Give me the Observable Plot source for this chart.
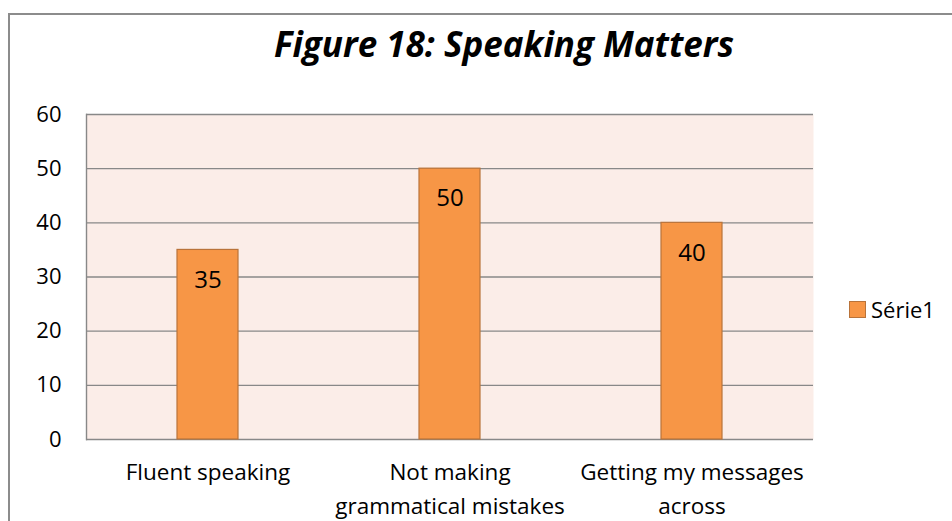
<!DOCTYPE html>
<html>
<head>
<meta charset="utf-8">
<script src="https://cdn.jsdelivr.net/npm/d3@7"></script>
<script src="https://cdn.jsdelivr.net/npm/@observablehq/plot@0.6"></script>
<style>
  html, body { margin: 0; padding: 0; background: #fff; overflow: hidden; }
  #wrap { position: relative; width: 952px; height: 521px; font-family: "Open Sans", Lato, sans-serif; }
  #border { position: absolute; left: 8px; top: 13px; width: 1000px; height: 600px; border: 2px solid #8c8c8c; box-sizing: border-box; }
  #title { position: absolute; left: 0; width: 1008px; top: 21px; text-align: center; font-size: 35px; line-height: 46px; font-weight: bold; font-style: italic; color: #000; white-space: nowrap; }
  #legend { position: absolute; left: 849px; top: 294px; display: flex; align-items: center; font-size: 22px; color: #000; }
  #legend .sw { width: 15px; height: 15px; background: #f79646; border: 1.5px solid #b9733a; margin-right: 5px; }
  #chart { position: absolute; left: 0; top: 0; }
</style>
</head>
<body>
<div id="wrap">
  <div id="border"></div>
  <div id="chart"></div>
  <div id="title">Figure 18: Speaking Matters</div>
  <div id="legend"><div class="sw"></div><span>Série1</span></div>
</div>
<script>
const categories = ["Fluent speaking", "Not making grammatical mistakes", "Getting my messages across"];
const tickLabels = ["Fluent speaking", "Not making\ngrammatical mistakes", "Getting my messages\nacross"];
const values = [35, 50, 40];
const yTicks = [0, 10, 20, 30, 40, 50, 60];
const seriesName = "Série1";

const data = categories.map((c, i) => ({category: c, value: values[i], series: seriesName}));
const labelOf = new Map(categories.map((c, i) => [c, tickLabels[i]]));

const chart = Plot.plot({
  width: 952,
  height: 521,
  marginLeft: 86,
  marginRight: 139,
  marginTop: 114,
  marginBottom: 82,
  style: {fontFamily: "'Open Sans', Lato, sans-serif", fontSize: "22px", color: "#000", background: "transparent", overflow: "visible"},
  x: {domain: categories, paddingInner: 0.748, paddingOuter: 0.374, label: null},
  y: {domain: [0, 60], label: null},
  marks: [
    Plot.frame({fill: "#fbede8", stroke: null}),
    Plot.ruleY(yTicks, {stroke: "#888888", strokeWidth: 1.4}),
    Plot.frame({anchor: "left", stroke: "#888888", strokeWidth: 1.4}),
    Plot.barY(data, {x: "category", y: "value", fill: "#f79646", stroke: "#b9733a", strokeWidth: 1.2}),
    Plot.text(data, {x: "category", y: "value", text: d => String(d.value), dy: 30, fontSize: 24, fill: "#000", lineAnchor: "middle"}),
    Plot.axisY({ticks: yTicks, tickSize: 0, tickPadding: 25, fontSize: 22, label: null}),
    Plot.axisX({tickSize: 0, tickPadding: 17, fontSize: 22.5, lineHeight: 1.5, tickFormat: d => labelOf.get(d), label: null})
  ]
});
document.getElementById("chart").appendChild(chart);
</script>
</body>
</html>
